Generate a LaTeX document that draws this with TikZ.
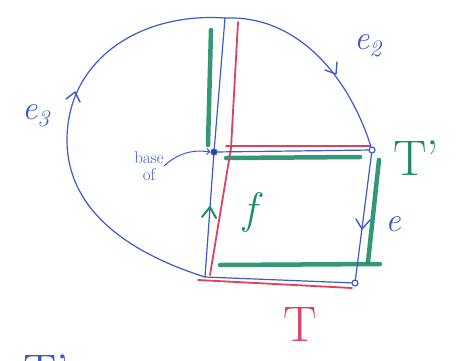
\documentclass[tikz,border=0pt]{standalone}
\usetikzlibrary{arrows.meta, calc}

\definecolor{penBlue}{RGB}{60,90,205}
\definecolor{penGreen}{RGB}{30,140,105}
\definecolor{penRed}{RGB}{225,65,95}

\begin{document}
\begin{tikzpicture}[
		x=1pt, y=-1pt,
		bluepen/.style={draw=penBlue, line width=1.2pt, line cap=round, line join=round},
		greenpen/.style={draw=penGreen, line width=4.5pt, line cap=round, opacity=0.9},
		redpen/.style={draw=penRed, line width=1.8pt, line cap=round, line join=round},
		tippen/.style={draw=#1, line width=1.4pt, line cap=round, line join=round},
		vert/.style={circle, draw=penBlue, line width=1.2pt, inner sep=0pt, minimum size=6pt},
		bigtxt/.style={font=\fontsize{50}{50}\selectfont},
		midtxt/.style={font=\fontsize{34}{34}\selectfont\itshape},
		smalltxt/.style={font=\fontsize{17}{17}\selectfont, text=penBlue, align=center, inner sep=0pt}
		]
		\useasboundingbox (0,0) rectangle (466,360);
		
		% ==========================================
		% 1. VERTICES
		% ==========================================
		\node[vert, fill=penBlue!70!black] (tl) at (214,152) {};
		\node[vert] (tr) at (372,150) {};
		\node[vert] (br) at (355,283) {};
		\coordinate (bl) at (205,277);
		\coordinate (top) at (225,18);
		\coordinate (e3w) at (67,140);
		
		% ==========================================
		% 2. MARKER STROKES (green and red)
		% ==========================================
		\draw[greenpen] (211,30) -- (208,145);
		\draw[greenpen] (226,158) -- (360,157);
		\draw[greenpen] (379,160) -- (368,262);
		\draw[greenpen] (220,265) -- (380,264);
		
		\draw[redpen] (238,22) -- (231,148) -- (210,275);
		\draw[redpen] (226,146) -- (370,146);
		\draw[redpen] (198,280) -- (352,288);
		
		% ==========================================
		% 3. EDGES (blue)
		% ==========================================
		\draw[bluepen] (tl) -- (tr);
		\draw[bluepen] (br) -- (bl);
		\draw[bluepen] (tl) -- (top);
		\draw[bluepen] (tr) -- (br);
		\draw[bluepen] (bl) -- (tl);
		
		% e2: upper arc
		\draw[bluepen] (top) .. controls (300,15) and (350,80) .. (tr);
		% e3: outer arc
		\draw[bluepen] (bl) .. controls (120,250) and (67,205) .. (e3w)
			.. controls (67,60) and (140,12) .. (top);
		
		% hand drawn arrowheads on the edges
		\draw[tippen=penBlue] (325,70) -- (336,74) -- (337,62);   % e2
		\draw[tippen=penBlue] (80,102) -- (75,92) -- (66,99);     % e3
		\draw[tippen=penBlue] (370,220) -- (362,229) -- (356,219); % e
		\draw[tippen=penGreen, line width=2pt] (216,218) -- (210,207) -- (202,217); % f
		
		% ==========================================
		% 4. LABELS
		% ==========================================
		\node[midtxt, text=penBlue] (e2) at (368,46) {e\textsubscript{2}};
		\node[midtxt, text=penBlue] (e3) at (36,116) {e\textsubscript{3}};
		\node[midtxt, text=penBlue] (e) at (393,224) {e};
		\node[midtxt, text=penGreen, font=\fontsize{44}{44}\selectfont\itshape] (f) at (250,212) {f};
		
		\node[smalltxt] (base) at (149,166) {base\\of};
		\draw[penBlue, line width=1pt, -{Straight Barb[length=3pt]}] (base.east) to[bend left=25] (tl.west);
		
		\node[bigtxt, text=penGreen] (Tp) at (416,158) {T'};
		\node[bigtxt, text=penRed] (T) at (300,324) {T};
		\node[bigtxt, text=penBlue] (Tpb) at (46,372) {T'};
		
	\end{tikzpicture}
\end{document}
